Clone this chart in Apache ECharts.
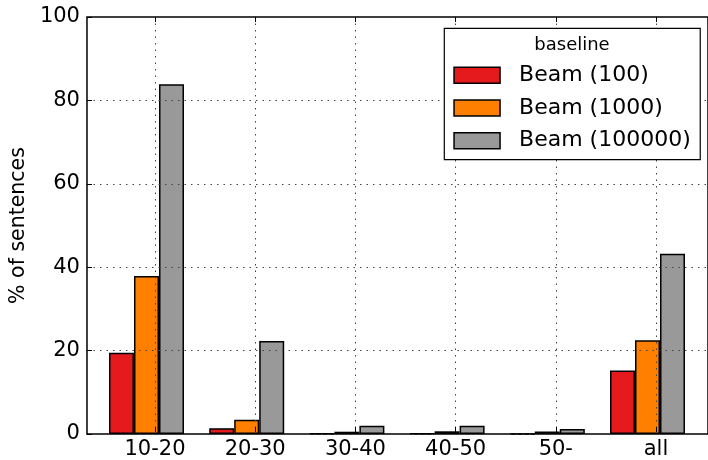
<!DOCTYPE html>
<html>
<head>
<meta charset="utf-8">
<script src="https://cdn.jsdelivr.net/npm/echarts@6/dist/echarts.min.js"></script>
<style>html,body{margin:0;padding:0;background:#fff}#c{width:708px;height:460px}</style>
</head>
<body>
<div id="c"></div>
<script>
const categories = ['10-20', '20-30', '30-40', '40-50', '50-', 'all'];
const seriesNames = ['Beam (100)', 'Beam (1000)', 'Beam (100000)'];
const beam100 = [19.5, 1.4, 0.15, 0.15, 0.0, 15.2];
const beam1000 = [37.9, 3.4, 0.55, 0.65, 0.6, 22.5];
const beam100000 = [83.9, 22.3, 2.0, 2.0, 1.2, 43.2];
const yTicks = [0, 20, 40, 60, 80, 100];
const legendTitle = 'baseline';
const yName = '% of sentences';

const colors = ['#e41a1c', '#ff7f00', '#999999'];
const FONT = 'DejaVu Sans';
const dotted = { color: '#444', width: 1, type: [1.5, 5] };

const chart = echarts.init(document.getElementById('c'), null, { renderer: 'canvas' });

const makeBar = (name, data, i) => ({
  name: name,
  type: 'bar',
  xAxisIndex: 1,
  yAxisIndex: 1,
  data: data,
  barWidth: 25,
  barGap: '0%',
  itemStyle: { color: colors[i], borderColor: '#000', borderWidth: 1.5 },
  z: 2
});

chart.setOption({
  animation: false,
  textStyle: { fontFamily: FONT },
  grid: [
    { left: 84.5, right: -10, top: 17, bottom: 26, show: true, borderColor: '#000', borderWidth: 1.5, backgroundColor: 'transparent' },
    { left: 96.4, right: 10.4, top: 17, bottom: 26 },
    { left: 155, right: 52, top: 17, bottom: 26 }
  ],
  xAxis: [
    { gridIndex: 0, type: 'value', show: false, min: 0, max: 1 },
    { gridIndex: 1, type: 'category', data: categories, show: false, boundaryGap: true },
    {
      gridIndex: 2, type: 'category', data: categories, position: 'bottom', boundaryGap: false, z: 3,
      axisLine: { show: false },
      axisTick: { show: true, inside: true, length: 5, lineStyle: { color: '#000', width: 1 } },
      axisLabel: { show: true, fontSize: 21, color: '#000', fontFamily: FONT, margin: 7, interval: 0 },
      splitLine: { show: true, lineStyle: dotted }
    },
    {
      gridIndex: 2, type: 'category', data: categories, position: 'top', boundaryGap: false, z: 3,
      axisLine: { show: false },
      axisTick: { show: true, inside: true, length: 5, lineStyle: { color: '#000', width: 1 } },
      axisLabel: { show: false },
      splitLine: { show: false }
    }
  ],
  yAxis: [
    {
      gridIndex: 0, type: 'value', min: 0, max: 100, interval: 20, z: 3,
      name: yName, nameLocation: 'middle', nameGap: 54, nameRotate: 90,
      nameTextStyle: { fontSize: 20.5, color: '#000', fontFamily: FONT },
      axisLine: { show: false },
      axisTick: { show: true, inside: true, length: 5, lineStyle: { color: '#000', width: 1 } },
      axisLabel: { fontSize: 21, color: '#000', fontFamily: FONT, margin: 7, formatter: v => (yTicks.includes(v) ? String(v) : '') },
      splitLine: { show: true, lineStyle: dotted }
    },
    { gridIndex: 1, type: 'value', min: 0, max: 100, show: false },
    { gridIndex: 2, type: 'value', min: 0, max: 100, show: false }
  ],
  legend: {
    data: seriesNames,
    left: 444.3,
    top: 28.3,
    orient: 'vertical',
    icon: 'rect',
    itemWidth: 46,
    itemHeight: 16,
    itemGap: 10.7,
    padding: [36, 9.5, 8, 9],
    backgroundColor: '#fff',
    borderColor: '#000',
    borderWidth: 1.2,
    borderRadius: 0,
    z: 10,
    itemStyle: { borderColor: '#000', borderWidth: 1.5 },
    textStyle: { fontSize: 22, color: '#000', fontFamily: FONT, lineHeight: 22, padding: [0, 0, 0, 14] }
  },
  graphic: [
    {
      type: 'text', z: 100, x: 572, y: 45,
      style: { text: legendTitle, fontSize: 18, fontFamily: FONT, fill: '#000', align: 'center', verticalAlign: 'middle' }
    }
  ],
  series: [
    makeBar(seriesNames[0], beam100, 0),
    makeBar(seriesNames[1], beam1000, 1),
    makeBar(seriesNames[2], beam100000, 2)
  ]
});
</script>
</body>
</html>
